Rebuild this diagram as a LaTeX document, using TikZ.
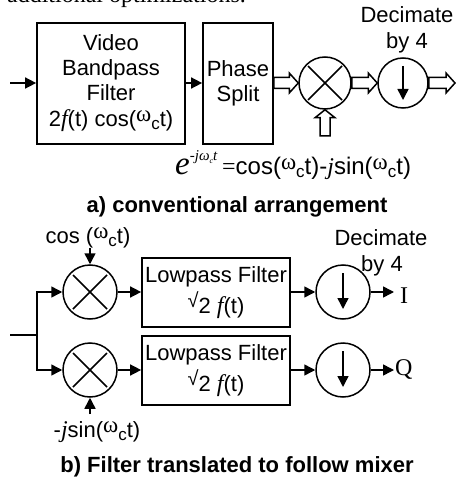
\documentclass[tikz,border=0pt]{standalone}
\usepackage{fontspec}
\setmainfont{Liberation Sans}
\newfontfamily\serifface{Liberation Serif}
\usetikzlibrary{arrows.meta,calc}
\newcommand{\fsym}{{\serifface\itshape\fontsize{24}{25}\selectfont f}}
\newcommand{\jsym}{{\serifface\itshape\fontsize{24}{25}\selectfont j}}
\newcommand{\omc}{\raisebox{5pt}{\serifface\fontsize{23}{24}\selectfont ω}\raisebox{-3pt}{\fontsize{17}{18}\selectfont c}t}
\newcommand{\rootsym}{\raisebox{6pt}{\fontsize{20}{21}\selectfont √}}
\newcommand{\hollowarrow}[4]{%
  \coordinate (h) at ($(#2)!#4pt!(#1)$);
  \draw[hollowline] ($(#1)!#3pt!90:(#2)$) -- ($(h)!#3pt!90:(#2)$) -- ($(h)!10pt!90:(#2)$) -- (#2)
    -- ($(h)!10pt!-90:(#2)$) -- ($(h)!#3pt!-90:(#2)$) -- ($(#1)!#3pt!-90:(#2)$) -- cycle;}
\tikzset{
  x=1pt,y=-1pt,
  every node/.style={font=\fontsize{22}{25}\selectfont,inner sep=0pt},
  blockbox/.style={draw,line width=1.7pt,align=center},
  ring/.style={draw,circle,line width=1.5pt,minimum size=52pt},
  conn/.style={line width=1.5pt,-{Triangle[length=11pt,width=11pt]}},
  plainline/.style={line width=1.5pt},
  hollowline/.style={line width=1.5pt,line join=miter,fill=white},
  label/.style={anchor=base},
  caption/.style={anchor=base,font=\bfseries\fontsize{22}{26}\selectfont},
}
\begin{document}
\begin{tikzpicture}
\useasboundingbox (0,0) rectangle (455,478);
% cropped line of running text at the top
\node[anchor=base east,font=\serifface\fontsize{24}{26}\selectfont] (runin) at (246,3) {additional optimizations.};
% part a
\node[blockbox,minimum width=148pt,minimum height=121pt] (vbf) at (111,83.5) {Video\\Bandpass\\Filter\\[1pt]2\fsym(t) cos(\omc)};
\node[blockbox,minimum width=70pt,minimum height=121pt] (ps) at (238,83.5) {Phase\\Split};
\node[ring] (mixa) at (325,83) {};
\node[ring,minimum size=50pt] (deca) at (403,83) {};
\coordinate (ina) at (10,83);
\coordinate (outa) at (455,83);
\coordinate (loa) at (325,136);
\draw[conn] (ina) -- (vbf.west |- ina);
\draw[conn] (vbf.east |- ina) -- (ps.west |- ina);
\hollowarrow{ps.east |- mixa}{mixa.west}{5.5}{9}
\hollowarrow{mixa.east}{deca.west}{5.5}{9}
\hollowarrow{deca.east}{outa}{5.5}{9}
\hollowarrow{loa}{mixa.south}{5}{8}
\draw[plainline] ($(mixa)+(-17,-17)$) -- ($(mixa)+(17,17)$);
\draw[plainline] ($(mixa)+(-17,17)$) -- ($(mixa)+(17,-17)$);
\draw[conn] ($(deca)+(0,-17)$) -- ($(deca)+(0,17)$);
\node[label] (deca1) at (407,23) {Decimate};
\node[label] (deca2) at (407,49) {by 4};
\node[anchor=base west] (expo) at (175,175) {{\serifface\itshape\fontsize{33}{34}\selectfont e}\raisebox{14pt}{\serifface\itshape\fontsize{15}{16}\selectfont -jω\raisebox{-3pt}{\fontsize{8}{9}\selectfont c}t}};
\node[anchor=base west,font=\fontsize{24}{26}\selectfont] (eq) at (222,175) {{\serifface =}cos(\omc)-\jsym sin(\omc)};
\node[caption] (capa) at (237,212) {a) conventional arrangement};
% part b
\node[ring,minimum size=54pt] (mix1) at (90,292) {};
\node[ring,minimum size=54pt] (mix2) at (90,370) {};
\node[blockbox,minimum width=148pt,minimum height=69pt] (lp1) at (216,292.5) {Lowpass Filter\\[3pt]\rootsym 2 \fsym(t)};
\node[blockbox,minimum width=148pt,minimum height=69pt] (lp2) at (216,370.5) {Lowpass Filter\\[3pt]\rootsym 2 \fsym(t)};
\node[ring,minimum size=54pt] (dec1) at (343,292) {};
\node[ring,minimum size=54pt] (dec2) at (343,370) {};
\coordinate (inb) at (10,335);
\coordinate (jn) at (37,335);
\coordinate (topb) at (90,248);
\coordinate (botb) at (90,414);
\coordinate (outi) at (394,292);
\coordinate (outq) at (394,370);
\draw[plainline] (inb) -- (jn);
\draw[conn] (jn) |- (mix1.west);
\draw[conn] (jn) |- (mix2.west);
\draw[conn] (topb) -- (mix1.north);
\draw[conn] (botb) -- (mix2.south);
\draw[conn] (mix1.east) -- (lp1.west |- mix1);
\draw[conn] (mix2.east) -- (lp2.west |- mix2);
\draw[conn] (lp1.east |- dec1) -- (dec1.west);
\draw[conn] (lp2.east |- dec2) -- (dec2.west);
\draw[conn] (dec1.east) -- (outi);
\draw[conn] (dec2.east) -- (outq);
\foreach \m in {mix1,mix2}{
  \draw[plainline] ($(\m)+(-17,-17)$) -- ($(\m)+(17,17)$);
  \draw[plainline] ($(\m)+(-17,17)$) -- ($(\m)+(17,-17)$);
}
\foreach \m in {dec1,dec2}{
  \draw[conn] ($(\m)+(0,-19)$) -- ($(\m)+(0,17)$);
}
\node[label] (cosl) at (88,243) {cos (\omc)};
\node[label] (sinl) at (97,437) {-\jsym sin(\omc)};
\node[label] (decb1) at (381,245) {Decimate};
\node[label] (decb2) at (382,271) {by 4};
\node[anchor=base west,font=\serifface\fontsize{24}{26}\selectfont] (il) at (400,303) {I};
\node[anchor=base west,font=\serifface\fontsize{24}{26}\selectfont] (ql) at (395,375) {Q};
\node[caption] (capb) at (237,472) {b) Filter translated to follow mixer};
\end{tikzpicture}
\end{document}
